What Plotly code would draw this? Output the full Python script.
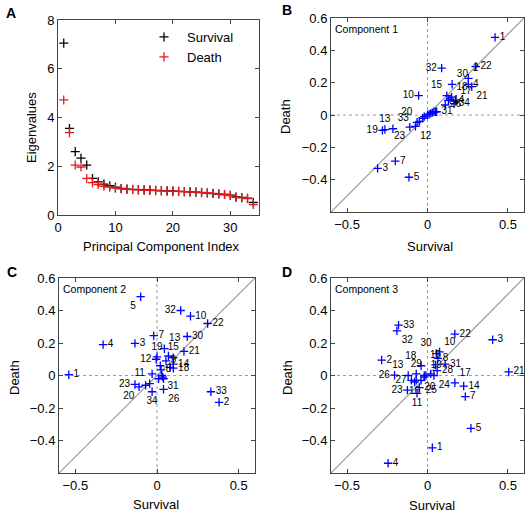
import plotly.graph_objects as go

# ---------------- data ----------------
pc_index = [1, 2, 3, 4, 5, 6, 7, 8, 9, 10, 11, 12, 13, 14, 15, 16, 17,
            18, 19, 20, 21, 22, 23, 24, 25, 26, 27, 28, 29, 30, 31, 32, 33, 34]
survival_eig = [7.05, 3.55, 2.6, 2.33, 2.05, 1.5, 1.36, 1.27, 1.2, 1.14, 1.09, 1.06,
                1.05, 1.04, 1.03, 1.02, 1.01, 1.0, 0.99, 0.98, 0.97, 0.96, 0.95, 0.94,
                0.92, 0.9, 0.88, 0.86, 0.84, 0.81, 0.74, 0.72, 0.69, 0.52]
death_eig = [4.72, 3.38, 2.05, 1.97, 1.5, 1.33, 1.25, 1.18, 1.14, 1.1, 1.07, 1.05,
             1.04, 1.03, 1.02, 1.01, 1.0, 0.99, 0.98, 0.98, 0.97, 0.96, 0.95, 0.94,
             0.93, 0.91, 0.89, 0.87, 0.84, 0.8, 0.72, 0.7, 0.67, 0.43]

variable_labels = [str(i) for i in pc_index]

comp1_survival = [0.42, 0.254, -0.31, 0.254, -0.115, 0.02, -0.20, 0.04, -0.03, -0.055,
                  -0.05, -0.075, -0.265, 0.13, 0.12, 0.14, 0.175, 0.15, -0.28, -0.065,
                  0.275, 0.30, -0.11, 0.0, 0.01, 0.11, -0.02, 0.03, 0.05, 0.153,
                  0.057, 0.088, -0.215, 0.165]
comp1_death = [0.48, 0.227, -0.33, 0.19, -0.385, 0.01, -0.285, 0.02, -0.02, 0.12,
               -0.04, -0.07, -0.09, 0.09, 0.12, 0.10, 0.085, 0.11, -0.095, -0.045,
               0.175, 0.30, -0.075, 0.0, 0.005, 0.062, -0.01, 0.015, 0.02, 0.19,
               0.02, 0.29, -0.085, 0.07]

comp2_survival = [-0.54, 0.38, -0.135, -0.33, -0.10, 0.02, -0.02, 0.025, 0.055, 0.205,
                  -0.045, -0.005, 0.045, 0.10, 0.10, 0.07, 0.08, 0.10, 0.0, -0.11,
                  0.165, 0.31, -0.135, -0.03, 0.03, 0.04, 0.01, 0.04, -0.07, 0.185,
                  0.035, 0.145, 0.33, -0.03]
comp2_death = [0.005, -0.165, 0.198, 0.19, 0.485, 0.06, 0.245, 0.035, 0.09, 0.365,
               -0.05, 0.10, 0.165, 0.07, 0.11, 0.12, 0.05, 0.045, 0.115, -0.07,
               0.148, 0.32, -0.055, 0.01, 0.0, -0.085, -0.02, -0.02, -0.06, 0.24,
               -0.01, 0.40, -0.10, -0.10]

comp3_survival = [0.03, -0.285, 0.405, -0.245, 0.27, -0.02, 0.235, 0.065, -0.02, 0.075,
                  -0.065, -0.07, -0.12, 0.225, 0.05, -0.08, 0.17, -0.04, -0.01, -0.05,
                  0.505, 0.17, -0.125, 0.04, -0.04, -0.205, -0.10, 0.06, -0.07, 0.055,
                  0.11, -0.19, -0.18, 0.02]
comp3_death = [-0.445, 0.095, 0.22, -0.54, -0.325, 0.0, -0.13, 0.105, -0.01, 0.145,
               -0.11, -0.03, 0.0, -0.065, 0.065, -0.04, -0.045, 0.06, 0.0, -0.075,
               0.022, 0.255, -0.09, 0.0, -0.03, 0.002, -0.03, 0.03, 0.01, 0.135,
               0.07, 0.275, 0.31, 0.01]

hidden_c1 = [6, 8, 9, 11, 16, 24, 25, 27, 28, 29]
hidden_c2 = [6, 16, 17, 24, 25, 27, 28, 29]
hidden_c3 = [6, 9, 12, 34]

# ---------------- styling ----------------
FONT = "Arial, Liberation Sans, sans-serif"
BLUE = "#0000ff"
AX_RANGE = [-0.6, 0.6]

pos_c1 = {1: "middle right", 2: "top right", 10: "middle left", 12: "bottom right",
          13: "top center", 15: "top left", 17: "top right", 18: "top right",
          19: "middle left", 20: "top left", 21: "bottom right", 23: "bottom left",
          30: "top right", 32: "middle left", 33: "top right", 26: "middle right"}
pos_c2 = {5: "bottom left", 12: "middle left", 13: "top right", 15: "top center",
          19: "top center", 20: "bottom left", 23: "middle left", 26: "bottom right",
          31: "bottom right", 32: "middle left", 34: "bottom center", 11: "top left"}
pos_c3 = {10: "top right", 11: "bottom center", 13: "top left", 15: "top center",
          17: "top right", 18: "top left", 19: "top right", 23: "middle left",
          24: "bottom right", 25: "bottom right", 26: "middle left", 27: "middle left",
          29: "top center", 30: "top left", 32: "bottom right", 16: "bottom center"}

fig = go.Figure()

# Panel A
fig.add_trace(go.Scatter(x=pc_index, y=survival_eig, mode="markers", name="Survival",
                         marker=dict(symbol="cross-thin", size=6.5, color="black",
                                     line=dict(color="black", width=1.3)),
                         xaxis="x", yaxis="y"))
fig.add_trace(go.Scatter(x=pc_index, y=death_eig, mode="markers", name="Death",
                         marker=dict(symbol="cross-thin", size=6.5, color="#e31a1c",
                                     line=dict(color="#e31a1c", width=1.3)),
                         xaxis="x", yaxis="y"))

panels = [
    (comp1_survival, comp1_death, hidden_c1, pos_c1, "2", "Component 1"),
    (comp2_survival, comp2_death, hidden_c2, pos_c2, "3", "Component 2"),
    (comp3_survival, comp3_death, hidden_c3, pos_c3, "4", "Component 3"),
]

shapes = []
annotations = []
for xs, ys, hidden, pos, k, title in panels:
    texts = ["" if int(l) in hidden else l for l in variable_labels]
    tpos = [pos.get(int(l), "middle right") for l in variable_labels]
    fig.add_trace(go.Scatter(x=xs, y=ys, mode="markers+text", text=texts,
                             textposition=tpos, showlegend=False,
                             textfont=dict(family=FONT, size=10, color="black"),
                             marker=dict(symbol="cross-thin", size=6, color=BLUE,
                                         line=dict(color=BLUE, width=1.3)),
                             cliponaxis=False,
                             xaxis="x" + k, yaxis="y" + k))
    shapes.append(dict(type="line", xref="x" + k, yref="y" + k,
                       x0=AX_RANGE[0], y0=AX_RANGE[0], x1=AX_RANGE[1], y1=AX_RANGE[1],
                       line=dict(color="#9a9a9a", width=1.2), layer="below"))
    shapes.append(dict(type="line", xref="x" + k, yref="y" + k + " domain",
                       x0=0, x1=0, y0=0, y1=1,
                       line=dict(color="#9a9a9a", width=1, dash="dot"), layer="below"))
    shapes.append(dict(type="line", xref="x" + k + " domain", yref="y" + k,
                       x0=0, x1=1, y0=0, y1=0,
                       line=dict(color="#9a9a9a", width=1, dash="dot"), layer="below"))
    annotations.append(dict(text=title, xref="x" + k + " domain", yref="y" + k + " domain",
                            x=0.01, y=0.985, xanchor="left", yanchor="top", showarrow=False,
                            font=dict(family=FONT, size=10.5, color="black")))

W, H = 530, 513

def px(xp):
    return xp / W

def py(yp):
    return 1 - yp / H

axis_common = dict(showline=True, mirror="ticks", linecolor="#444", linewidth=1,
                   ticks="inside", ticklen=4, tickcolor="#444", showgrid=False,
                   zeroline=False, automargin=False,
                   tickfont=dict(family=FONT, size=13, color="black"))

layout = dict(
    template="none",
    width=W, height=H, margin=dict(l=0, r=0, t=0, b=0, pad=0, autoexpand=False),
    paper_bgcolor="white", plot_bgcolor="white",
    font=dict(family=FONT, size=13, color="black"),
    xaxis=dict(domain=[px(58), px(259)], range=[0, 35], tickvals=[0, 10, 20, 30],
               anchor="y", **axis_common),
    yaxis=dict(domain=[py(215), py(20)], range=[0, 8], tickvals=[0, 2, 4, 6, 8],
               anchor="x", **axis_common),
    showlegend=True,
    legend=dict(x=px(141), y=py(22), xanchor="left", yanchor="top",
                bgcolor="rgba(0,0,0,0)", borderwidth=0, font=dict(family=FONT, size=13),
                itemwidth=36, tracegroupgap=0),
    shapes=shapes,
)

sq_ticks = dict(tickvals=[-0.5, 0, 0.5])
sq_yticks = dict(tickvals=[-0.4, -0.2, 0, 0.2, 0.4, 0.6])
dom = {
    "2": ([px(331), px(524)], [py(212), py(18)]),
    "3": ([px(59), px(255)], [py(473), py(278)]),
    "4": ([px(331), px(524)], [py(473), py(278)]),
}
for k, (dx, dy) in dom.items():
    layout["xaxis" + k] = dict(domain=dx, range=AX_RANGE, anchor="y" + k, **sq_ticks, **axis_common)
    layout["yaxis" + k] = dict(domain=dy, range=AX_RANGE, anchor="x" + k, **sq_yticks, **axis_common)

def ann(text, x, y, size=13, bold=False, angle=0):
    return dict(text=("<b>%s</b>" % text) if bold else text, xref="paper", yref="paper",
                x=px(x), y=py(y), xanchor="center", yanchor="middle", showarrow=False,
                textangle=angle, font=dict(family=FONT, size=size, color="black"))

annotations += [
    ann("A", 11, 13, 14, True), ann("B", 287, 10, 14, True),
    ann("C", 12, 272, 14, True), ann("D", 287, 272, 14, True),
    ann("Principal Component Index", 161, 246), ann("Eigenvalues", 31, 128, angle=-90),
    ann("Survival", 430, 247), ann("Death", 285, 117, angle=-90),
    ann("Survival", 156, 504), ann("Death", 14, 378, angle=-90),
    ann("Survival", 432, 505), ann("Death", 287, 378, angle=-90),
]
layout["annotations"] = annotations

fig.update_layout(**layout)
fig.write_html("out.html", config={"responsive": False, "displayModeBar": False},
               post_script="document.body.style.margin='0';document.body.style.overflow='hidden';")
